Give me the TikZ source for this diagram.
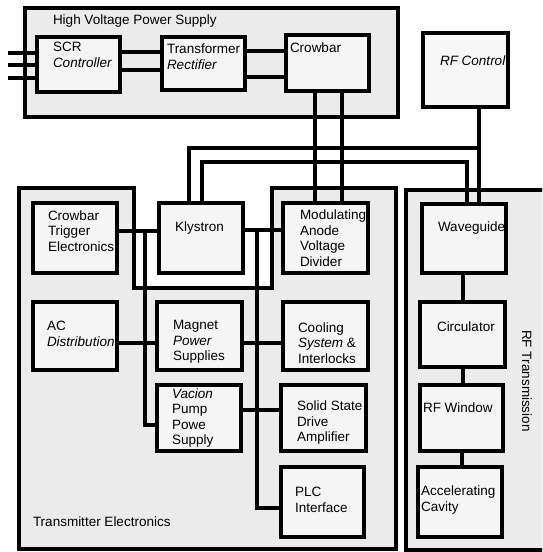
\documentclass[tikz,border=0pt]{standalone}
\usepackage{fontspec}
\setmainfont{Liberation Sans}
\begin{document}
\begin{tikzpicture}[x=1pt,y=-1pt,
  blk/.style={draw, line width=3.2pt, fill=black!4, minimum width=#1, inner sep=0, outer sep=0},
  grp/.style={draw, line width=3.2pt, fill=black!8},
  wire/.style={line width=3.2pt},
  txt/.style={inner sep=0, outer sep=0, anchor=west, align=left, font=\fontsize{13.5}{15.5}\selectfont},
  ttl/.style={inner sep=0, outer sep=0, anchor=west, font=\fontsize{13.5}{15.5}\selectfont}]
\useasboundingbox (0,0) rectangle (542,552);
\clip (0,0) rectangle (542,552);
% groups
\draw[grp] (25,8) rectangle (398,117);
\draw[grp] (19,188) -- (134,188) -- (134,288) -- (272,288) -- (272,188) -- (396,188) -- (396,549) -- (19,549) -- cycle;
\draw[grp] (406,190) rectangle (570,550);
\node[ttl] (hvps) at (53,21) {High Voltage Power Supply};
\node[ttl] (te) at (33,522) {Transmitter Electronics};
\node[ttl, anchor=center, rotate=-90] (rft) at (527,381) {RF Transmission};
% blocks
\node[blk=83pt, minimum height=55pt] (scr) at (78.5,64.5) {};
\node[blk=83pt, minimum height=53pt] (tr) at (203.5,63.5) {};
\node[blk=83pt, minimum height=56pt] (crow) at (327.5,63) {};
\node[blk=85pt, minimum height=74pt, fill=black!3] (rfc) at (465.5,70) {};
\node[blk=84pt, minimum height=70pt] (ct) at (75,238) {};
\node[blk=84pt, minimum height=70pt] (kly) at (201,238) {};
\node[blk=85pt, minimum height=70pt] (mod) at (325.5,238) {};
\node[blk=84pt, minimum height=69pt] (wg) at (464,238.5) {};
\node[blk=84pt, minimum height=68pt] (ac) at (75,336) {};
\node[blk=85pt, minimum height=68pt] (mag) at (199.5,336) {};
\node[blk=85pt, minimum height=68pt] (cool) at (325.5,336) {};
\node[blk=85pt, minimum height=65pt] (circ) at (462.5,334.5) {};
\node[blk=84pt, minimum height=66pt] (vac) at (199,418) {};
\node[blk=85pt, minimum height=66pt] (ssa) at (323.5,418) {};
\node[blk=83pt, minimum height=66pt] (rfw) at (461.5,418) {};
\node[blk=83pt, minimum height=70pt] (plc) at (322.5,502) {};
\node[blk=84pt, minimum height=70pt] (acc) at (460,502) {};
% texts
\node[txt] (scr-t) at (53,55) {SCR\\\textit{Controller}};
\node[txt] (tr-t) at (167,56.5) {Transformer\\\textit{Rectifier}};
\node[txt] (crow-t) at (290,48) {Crowbar};
\node[txt] (rfc-t) at (440,61) {\textit{RF Control}};
\node[txt] (ct-t) at (48,231) {Crowbar\\Trigger\\Electronics};
\node[txt] (kly-t) at (175,228) {Klystron};
\node[txt] (mod-t) at (300,238) {Modulating\\Anode\\Voltage\\Divider};
\node[txt] (wg-t) at (438,228) {Waveguide};
\node[txt] (ac-t) at (47,334) {AC\\\textit{Distribution}};
\node[txt] (mag-t) at (173,342) {Magnet\\\textit{Power}\\Supplies};
\node[txt] (cool-t) at (298,343) {Cooling\\\textit{System} \&\\Interlocks};
\node[txt] (circ-t) at (437,327) {Circulator};
\node[txt] (vac-t) at (172,418) {\textit{Vacion}\\Pump\\Powe\\Supply};
\node[txt] (ssa-t) at (297,423) {Solid State\\Drive\\Amplifier};
\node[txt] (rfw-t) at (423,408) {RF Window};
\node[txt] (plc-t) at (295,500) {PLC\\Interface};
\node[txt] (acc-t) at (421,500) {Accelerating\\Cavity};
% free ends and junctions
\coordinate (in1) at (8,53);
\coordinate (in2) at (8,65);
\coordinate (in3) at (8,78);
\coordinate (j1) at (479,148);
\coordinate (j2) at (145,231);
\coordinate (j3) at (257,230);
% HVPS wiring
\draw[wire] (in1) -- (scr.west |- in1);
\draw[wire] (in2) -- (scr.west |- in2);
\draw[wire] (in3) -- (scr.west |- in3);
\draw[wire] (scr.east |- 0,52) -- (tr.west |- 0,52);
\draw[wire] (scr.east |- 0,70) -- (tr.west |- 0,70);
\draw[wire] (tr.east |- 0,51) -- (crow.west |- 0,51);
\draw[wire] (tr.east |- 0,77) -- (crow.west |- 0,77);
\draw[wire] (crow.south -| 315,0) -- (mod.north -| 315,0);
\draw[wire] (crow.south -| 342,0) -- (mod.north -| 342,0);
% RF control wiring
\draw[wire] (rfc.south -| j1) -- (wg.north -| j1);
\draw[wire] (kly.north -| 189,0) |- (j1);
\draw[wire] (kly.north -| 202,0) |- (467,162) -- (wg.north -| 467,0);
% transmitter wiring
\draw[wire] (ct.east |- j2) -- (kly.west |- j2);
\draw[wire] (j2) |- (vac.west |- 0,425);
\draw[wire] (ac.east |- 0,343) -- (mag.west |- 0,343);
\draw[wire] (kly.east |- j3) -- (mod.west |- j3);
\draw[wire] (j3) |- (plc.west |- 0,508);
\draw[wire] (mag.east |- 0,343) -- (cool.west |- 0,343);
\draw[wire] (vac.east |- 0,410) -- (ssa.west |- 0,410);
% RF transmission wiring
\draw[wire] (wg.south -| 463,0) -- (circ.north -| 463,0);
\draw[wire] (circ.south -| 463,0) -- (rfw.north -| 463,0);
\draw[wire] (rfw.south -| 462,0) -- (acc.north -| 462,0);
\end{tikzpicture}
\end{document}
